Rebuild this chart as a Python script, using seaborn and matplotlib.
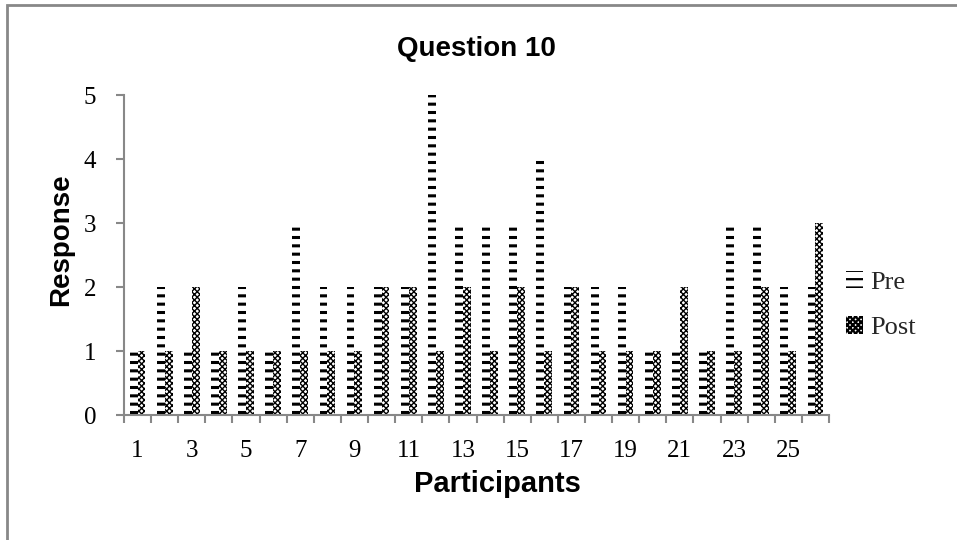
import matplotlib
matplotlib.use("Agg")
import matplotlib.pyplot as plt
import seaborn as sns
import pandas as pd
from matplotlib.patches import Patch, Rectangle
from matplotlib.ticker import FixedLocator

participants = list(range(1, 27))
pre = [1, 2, 1, 1, 2, 1, 3, 2, 2, 2, 2, 5, 3, 3, 3, 4, 2, 2, 2, 1, 1, 1, 3, 3, 2, 2]
post = [1, 1, 2, 1, 1, 1, 1, 1, 1, 2, 2, 1, 2, 1, 2, 1, 2, 1, 1, 1, 2, 1, 1, 2, 1, 3]
series = ["Pre", "Post"]
hatches = {"Pre": "--", "Post": "xxxxxx"}
hatch_widths = {"Pre": 2.2, "Post": 1.0}

df = pd.DataFrame({
    "Participant": participants * 2,
    "Response": pre + post,
    "Series": ["Pre"] * len(pre) + ["Post"] * len(post),
})

sns.set_theme(style="white")
plt.rcParams["hatch.linewidth"] = 1.6
plt.rcParams["hatch.color"] = "black"


def style_hatch(patch, name):
    patch.set_hatch(hatches[name])
    patch.set_edgecolor("black")
    patch.set_linewidth(0)
    if hasattr(patch, "set_hatch_linewidth"):
        patch.set_hatch_linewidth(hatch_widths[name])


fig = plt.figure(figsize=(9.57, 5.4), dpi=100)
ax = fig.add_axes([124 / 957, 1 - 415 / 540, (829 - 124) / 957, (415 - 95) / 540])

sns.barplot(data=df, x="Participant", y="Response", hue="Series",
            hue_order=series, order=participants, width=0.58,
            palette={"Pre": "white", "Post": "white"}, ax=ax,
            legend=False, linewidth=0)

for container, name in zip(ax.containers, series):
    for bar in container:
        style_hatch(bar, name)

ax.set_xlim(-0.5, len(participants) - 0.5)
ax.set_ylim(0, 5)
ax.set_yticks(range(0, 6))

# labels on odd participants, tick marks on category boundaries
ax.set_xticks(range(0, len(participants), 2))
ax.set_xticklabels([str(p) for p in participants[::2]])
ax.xaxis.set_minor_locator(FixedLocator([i - 0.5 for i in range(len(participants) + 1)]))

serif = ["Liberation Serif", "DejaVu Serif"]
sans = ["Liberation Sans", "DejaVu Sans"]
ax.tick_params(axis="both", labelsize=18, labelcolor="black", labelfontfamily="Liberation Serif")
ax.tick_params(axis="x", which="major", length=0, pad=18)
ax.tick_params(axis="x", which="minor", length=6, width=1.5, color="#888888", bottom=True)
ax.tick_params(axis="y", which="major", length=6, width=1.5, color="#888888", left=True, pad=14)

for side in ["top", "right"]:
    ax.spines[side].set_visible(False)
for side in ["left", "bottom"]:
    ax.spines[side].set_color("#888888")
    ax.spines[side].set_linewidth(1.5)

ax.set_xlabel("Participants", fontsize=21, fontweight="bold", family=sans, color="black")
ax.set_ylabel("Response", fontsize=20, fontweight="bold", family=sans, color="black")
ax.xaxis.set_label_coords(0.53, -0.172)
ax.yaxis.set_label_coords(-0.071, 0.547)
ax.set_title("Question 10", fontsize=20, fontweight="bold",
             family=sans, pad=28, color="black")

handles = []
for s in series:
    h = Patch(facecolor="white", edgecolor="black", linewidth=0)
    style_hatch(h, s)
    handles.append(h)
fig.legend(handles, series, loc="center left", bbox_to_anchor=(846 / 957, 1 - 305 / 540),
           frameon=False, prop={"family": serif, "size": 19}, borderpad=0, borderaxespad=0,
           handlelength=0.65, handleheight=0.65, handletextpad=0.25, labelspacing=0.85)

# outer chart frame
fig.add_artist(Rectangle((7 / 957, -0.1), 1.2, (535 / 540) + 0.1, transform=fig.transFigure,
                         fill=False, edgecolor="#888888", linewidth=2))

fig.savefig("out.png", dpi=100, facecolor="white")
